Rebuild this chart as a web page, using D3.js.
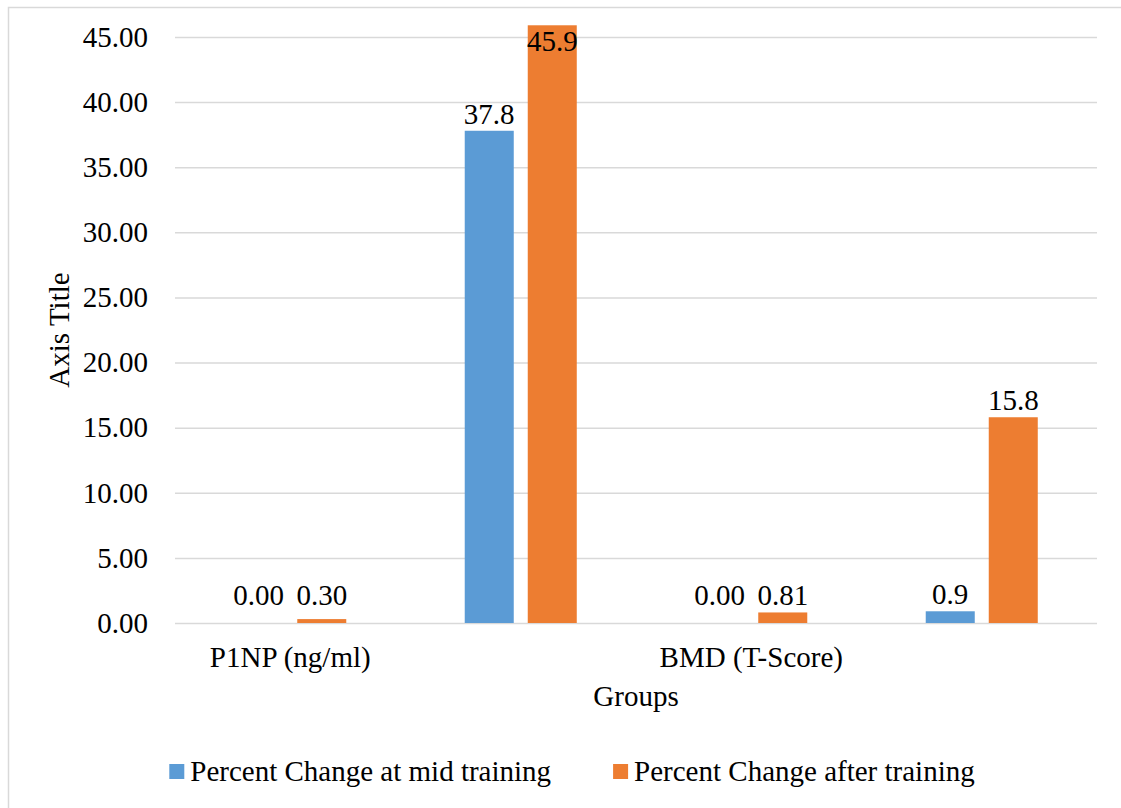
<!DOCTYPE html>
<html>
<head>
<meta charset="utf-8">
<script src="https://cdn.jsdelivr.net/npm/d3@7"></script>
<style>
  html, body { margin: 0; padding: 0; background: #ffffff; }
  svg { display: block; }
  text { font-family: "Liberation Serif", "Times New Roman", serif; fill: #000; }
</style>
</head>
<body>
<svg id="chart" width="1121" height="808"></svg>
<script>
// Category slots along the x axis (only two carry a label)
const categories = ["P1NP (ng/ml)", "", "BMD (T-Score)", ""];
// Series names
const seriesNames = ["Percent Change at mid training", "Percent Change after training"];
// Percent change values per slot
const midValues = [0.00, 37.8, 0.00, 0.9];
const afterValues = [0.30, 45.9, 0.81, 15.8];
// Decimal places shown in each data label
const midDecimals = [2, 1, 2, 1];
const afterDecimals = [2, 1, 2, 1];
// Y axis tick values
const yTicks = [0, 5, 10, 15, 20, 25, 30, 35, 40, 45];

const colors = ["#5B9BD5", "#ED7D31"];
const gridColor = "#D9D9D9";
const fontSize = 29;

const svg = d3.select("#chart");

// Chart frame
svg.append("rect")
  .attr("x", 8.5).attr("y", 7.5)
  .attr("width", 1140).attr("height", 820)
  .attr("fill", "#fff")
  .attr("stroke", gridColor).attr("stroke-width", 1.5);

const plot = { left: 175, right: 1097, top: 37, bottom: 623 };

const y = d3.scaleLinear().domain([0, 45]).range([plot.bottom, plot.top]);
const x0 = d3.scaleBand()
  .domain(d3.range(categories.length))
  .range([plot.left, plot.right])
  .paddingInner(0).paddingOuter(0);
const x1 = d3.scaleBand()
  .domain([0, 1])
  .range([0, x0.bandwidth()])
  .paddingInner(14 / 63)
  .paddingOuter(0.94);

// Gridlines
const grid = svg.append("g")
  .attr("transform", `translate(${plot.left},0)`)
  .call(d3.axisLeft(y).tickValues(yTicks).tickSize(-(plot.right - plot.left)).tickFormat(""));
grid.select(".domain").remove();
grid.selectAll("line").attr("stroke", gridColor).attr("stroke-width", 1.5);

// Y axis labels
const yAxis = svg.append("g")
  .attr("transform", `translate(${plot.left},0)`)
  .call(d3.axisLeft(y).tickValues(yTicks).tickFormat(d3.format(".2f")).tickSize(0).tickPadding(27));
yAxis.select(".domain").remove();
yAxis.selectAll("text")
  .style("font-family", "'Liberation Serif', 'Times New Roman', serif")
  .style("font-size", fontSize + "px")
  .attr("fill", "#000");

// Bars
const series = [midValues, afterValues];
const decimals = [midDecimals, afterDecimals];
const barGroup = svg.append("g");
series.forEach((vals, s) => {
  barGroup.selectAll(null)
    .data(vals.map((v, i) => ({ v, i })))
    .enter().append("rect")
    .attr("x", d => x0(d.i) + x1(s))
    .attr("width", x1.bandwidth())
    .attr("y", d => y(d.v))
    .attr("height", d => y(0) - y(d.v))
    .attr("fill", colors[s]);
});

// Data labels
const capHeight = fontSize * 0.66;
series.forEach((vals, s) => {
  svg.append("g").selectAll("text")
    .data(vals.map((v, i) => ({ v, i })))
    .enter().append("text")
    .attr("x", d => x0(d.i) + x1(s) + x1.bandwidth() / 2)
    .attr("y", d => {
      const top = y(d.v);
      if (top < plot.top) return top + capHeight + 7; // inside end when bar passes the top tick
      return Math.min(top - 7, 605);
    })
    .attr("text-anchor", "middle")
    .style("font-size", fontSize + "px")
    .text(d => d.v.toFixed(decimals[s][d.i]));
});

// X axis category labels
const xAxis = svg.append("g")
  .attr("transform", `translate(0,${plot.bottom})`)
  .call(d3.axisBottom(x0).tickSize(0).tickFormat(i => categories[i]));
xAxis.select(".domain").remove();
xAxis.selectAll("text")
  .attr("y", 44).attr("dy", null)
  .style("font-family", "'Liberation Serif', 'Times New Roman', serif")
  .style("font-size", fontSize + "px")
  .attr("fill", "#000");

// Axis titles
svg.append("text")
  .attr("transform", `translate(69,${(plot.top + plot.bottom) / 2}) rotate(-90)`)
  .attr("text-anchor", "middle")
  .style("font-size", fontSize + "px")
  .text("Axis Title");

svg.append("text")
  .attr("x", (plot.left + plot.right) / 2)
  .attr("y", 706)
  .attr("text-anchor", "middle")
  .style("font-size", fontSize + "px")
  .text("Groups");

// Legend
const legend = svg.append("g");
const items = legend.selectAll("g").data(seriesNames).enter().append("g");
items.append("rect")
  .attr("width", 15).attr("height", 15)
  .attr("y", 764)
  .attr("fill", (d, i) => colors[i]);
items.append("text")
  .attr("x", 21).attr("y", 781)
  .style("font-size", fontSize + "px")
  .text(d => d);
let cursor = 0;
const gapBetween = 62;
const offsets = [];
items.each(function () {
  const w = 21 + d3.select(this).select("text").node().getComputedTextLength();
  offsets.push(cursor);
  cursor += w + gapBetween;
});
const totalW = cursor - gapBetween;
const legendStart = 572 - totalW / 2;
items.attr("transform", (d, i) => `translate(${legendStart + offsets[i]},0)`);
items.select("rect").attr("x", 0);
</script>
</body>
</html>
